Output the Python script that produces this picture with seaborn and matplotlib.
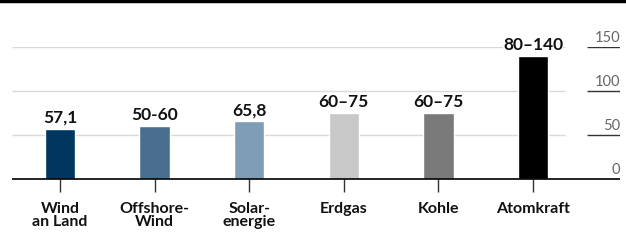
import matplotlib
matplotlib.use("Agg")
import matplotlib.pyplot as plt
import seaborn as sns
import pandas as pd
from matplotlib.lines import Line2D

categories = ["Wind\nan Land", "Offshore-\nWind", "Solar-\nenergie", "Erdgas", "Kohle", "Atomkraft"]
values = [57.1, 60, 65.8, 75, 75, 140]
value_labels = ["57,1", "50-60", "65,8", "60–75", "60–75", "80–140"]
colors = ["#003660", "#4a6f8e", "#7f9db5", "#c8c8c8", "#7a7a7a", "#000000"]
yticks = [0, 50, 100, 150]

sns.set_theme(style="white")
plt.rcParams["font.family"] = ["Lato", "DejaVu Sans"]

W, H = 626, 247
fig = plt.figure(figsize=(W / 100, H / 100), dpi=100)
ax = fig.add_axes([12 / W, 68 / H, 608 / W, 132 / H])

df = pd.DataFrame({"cat": categories, "val": values})
sns.barplot(data=df, x="cat", y="val", hue="cat", palette=colors, legend=False,
            width=0.32, ax=ax, saturation=1, zorder=3)

unit = 94.6
xl = -48 / unit
xr = (620 - 60) / unit
ax.set_xlim(xl, xr)
ax.set_ylim(0, 150)

grid_end = (565 - 60) / unit
tick_start = (587 - 60) / unit
for y in yticks[1:]:
    ax.hlines(y, xl, grid_end, color="#d9d9d9", lw=1, zorder=1)
    ax.hlines(y, tick_start, xr, color="#333333", lw=1, zorder=1)
for y in yticks:
    ax.text(xr, y + 2, str(y), ha="right", va="bottom", fontsize=10.5,
            color="#666666", fontweight="normal")
ax.hlines(0, xl, xr, color="black", lw=1.2, zorder=4, clip_on=False)

for i, (v, lab) in enumerate(zip(values, value_labels)):
    ax.text(i, v + 3.5, lab, ha="center", va="bottom", fontsize=12.5,
            fontweight="bold", color="#111111", zorder=5,
            bbox=dict(facecolor="white", edgecolor="none", pad=0.3))

for s in ax.spines.values():
    s.set_visible(False)
ax.set_yticks([])
ax.set_xlabel("")
ax.set_ylabel("")
ax.tick_params(axis="x", length=9.5, width=1, color="#333333", bottom=True,
               pad=7, labelsize=11.5)
for t in ax.get_xticklabels():
    t.set_fontweight("bold")
    t.set_linespacing(0.9)
    t.set_color("#111111")

fig.add_artist(Line2D([0, 1], [1 - 1.2 / H, 1 - 1.2 / H], color="black", lw=2.5))

fig.savefig("out.png", dpi=100, facecolor="white")
